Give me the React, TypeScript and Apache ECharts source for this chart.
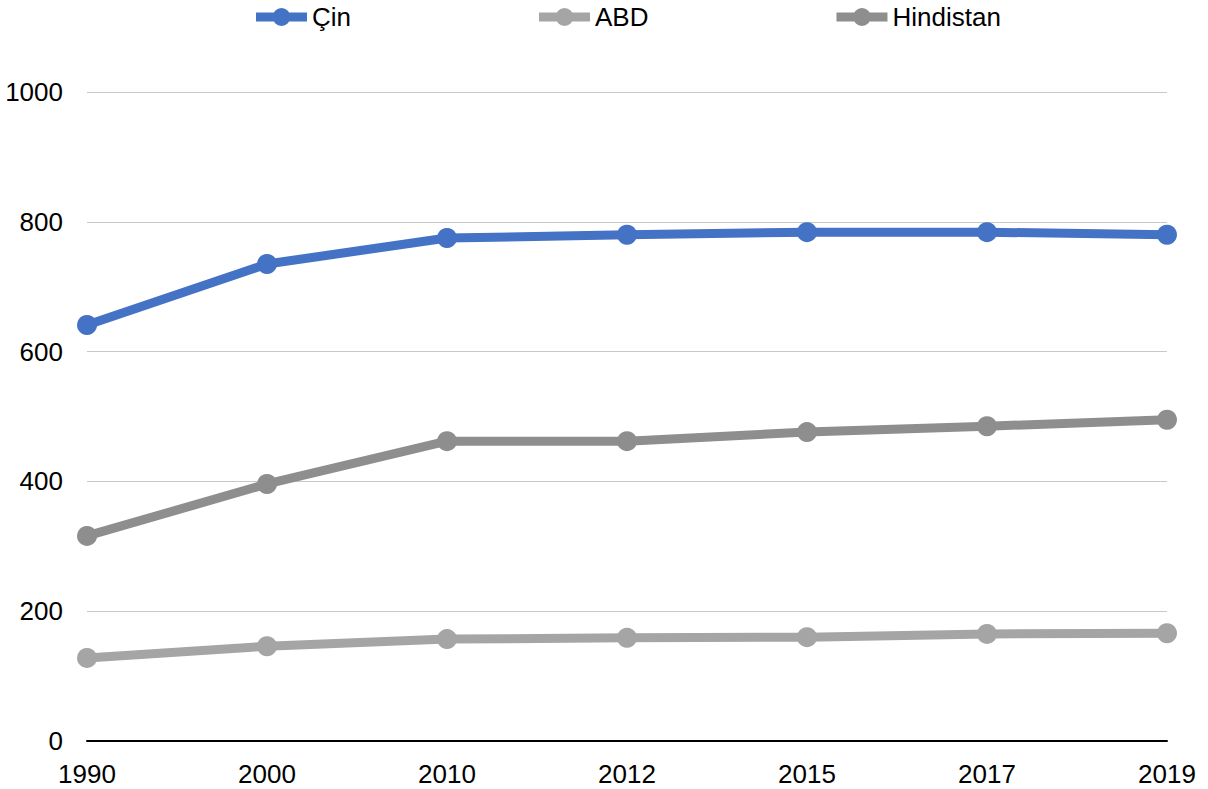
import React, { useEffect, useRef } from "react";
import * as echarts from "echarts";

const years = ["1990", "2000", "2010", "2012", "2015", "2017", "2019"];
const cin = [641, 735, 775, 780, 784, 784, 780];
const abd = [128, 146, 157, 159, 160, 165, 166];
const hindistan = [316, 396, 462, 462, 476, 485, 495];

const FONT = "'Liberation Sans', Arial, sans-serif";

// Legend marker: thick bar with a dot in its middle
const LEGEND_ICON =
  "path://M0,4.5 L51,4.5 L51,13.5 L0,13.5 Z M34.5,9 A9,9 0 1,1 16.5,9 A9,9 0 1,1 34.5,9 Z";

export default function App() {
  const ref = useRef<HTMLDivElement>(null);

  useEffect(() => {
    const chart = echarts.init(ref.current!, null, { renderer: "svg" });
    const mk = (name: string, data: number[], color: string) => ({
      name,
      type: "line",
      data,
      symbol: "circle",
      symbolSize: 20,
      showSymbol: true,
      lineStyle: { width: 9, color },
      itemStyle: { color },
    });
    chart.setOption({
      animation: false,
      textStyle: { fontFamily: FONT },
      legend: {
        top: -1,
        left: 251,
        itemWidth: 51,
        itemHeight: 18,
        itemGap: 188,
        icon: LEGEND_ICON,
        textStyle: { fontSize: 26, color: "#000", fontFamily: FONT },
        data: ["Çin", "ABD", "Hindistan"],
      },
      grid: { left: 87, right: 41, top: 92, bottom: 48, containLabel: false, outerBoundsMode: "none" },
      xAxis: {
        type: "category",
        data: years,
        boundaryGap: false,
        axisLine: { lineStyle: { color: "#000", width: 2 } },
        axisTick: { show: false },
        axisLabel: { fontSize: 26, color: "#000", margin: 20, fontFamily: FONT },
      },
      yAxis: {
        type: "value",
        min: 0,
        max: 1000,
        interval: 200,
        axisLine: { show: false },
        axisTick: { show: false },
        splitLine: { lineStyle: { color: "#c8c8c8", width: 1 } },
        axisLabel: {
          fontSize: 26,
          color: "#000",
          margin: 24,
          fontFamily: FONT,
          formatter: (v: number) => String(v),
        },
      },
      series: [
        mk("Çin", cin, "#4472C4"),
        mk("ABD", abd, "#A5A5A5"),
        mk("Hindistan", hindistan, "#8E8E8E"),
      ],
    });
    return () => chart.dispose();
  }, []);

  return (
    <div
      ref={ref}
      style={{ position: "fixed", left: 0, top: 0, width: 1208, height: 789, background: "#fff" }}
    />
  );
}
